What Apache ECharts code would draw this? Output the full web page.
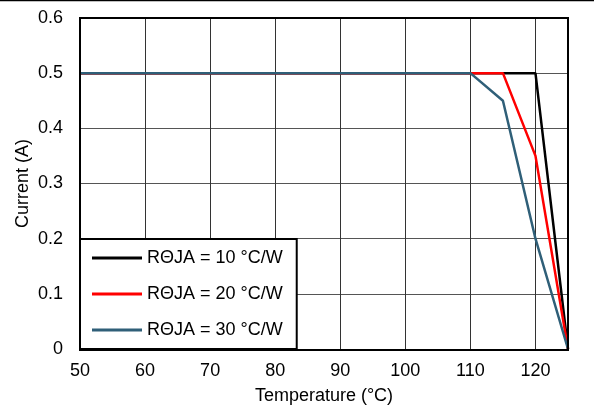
<!DOCTYPE html>
<html>
<head>
<meta charset="utf-8">
<script src="https://cdn.jsdelivr.net/npm/echarts@6/dist/echarts.min.js"></script>
<style>
  html, body { margin: 0; padding: 0; background: #fff; }
  #chart { width: 594px; height: 410px; }
</style>
</head>
<body>
<div id="chart"></div>
<script>
// temperature (°C) -> current (A)
var black10 = [[50, 0.5], [120, 0.5], [125, 0]];
var red20 = [[50, 0.5], [115, 0.5], [120, 0.35], [125, 0]];
var blue30 = [[50, 0.5], [110, 0.5], [115, 0.45], [120, 0.2], [125, 0]];
var seriesNames = ["RΘJA = 10 °C/W", "RΘJA = 20 °C/W", "RΘJA = 30 °C/W"];
var colors = ["#000000", "#ff0000", "#2f5f78"];

var myChart = echarts.init(document.getElementById("chart"));
var font = "Liberation Sans, Arial, sans-serif";

function line(name, data, color) {
  return {
    name: name,
    type: "line",
    data: data,
    symbol: "none",
    lineStyle: { color: color, width: 2.5 },
    itemStyle: { color: color },
    z: 3
  };
}

myChart.setOption({
  animation: false,
  textStyle: { fontFamily: font },
  grid: { left: 80, right: 26, top: 18, bottom: 60 },
  legend: {
    orient: "vertical",
    left: 80,
    top: 239,
    data: seriesNames,
    itemWidth: 50,
    itemHeight: 3,
    itemGap: 18,
    padding: [10, 14, 10, 12],
    borderColor: "#000",
    borderWidth: 2,
    borderRadius: 0,
    backgroundColor: "#fff",
    icon: "rect",
    textStyle: { fontSize: 18, color: "#000", fontFamily: font }
  },
  xAxis: {
    type: "value",
    min: 50,
    max: 125,
    interval: 10,
    name: "Temperature (°C)",
    nameLocation: "middle",
    nameGap: 38,
    nameTextStyle: { fontSize: 18, color: "#000" },
    axisLine: { show: false },
    axisTick: { show: false },
    axisLabel: {
      fontSize: 18, color: "#000", margin: 13,
      showMaxLabel: false
    },
    splitLine: { show: true, lineStyle: { color: "#333", width: 1 } }
  },
  yAxis: {
    type: "value",
    min: 0,
    max: 0.6,
    interval: 0.1,
    name: "Current (A)",
    nameLocation: "middle",
    nameGap: 48,
    nameMoveOverlap: false,
    nameTextStyle: { fontSize: 18, color: "#000" },
    axisLine: { show: false },
    axisTick: { show: false },
    axisLabel: {
      fontSize: 18, color: "#000", margin: 17,
      formatter: function (v) { return v === 0 ? "0" : v.toFixed(1); }
    },
    splitLine: { show: true, lineStyle: { color: "#555", width: 1 } }
  },
  graphic: [
    {
      type: "rect",
      shape: { x: 80, y: 18, width: 488, height: 332 },
      style: { fill: "none", stroke: "#000", lineWidth: 2 },
      z: 10
    },
    {
      type: "line",
      shape: { x1: 0, y1: 0.5, x2: 594, y2: 0.5 },
      style: { stroke: "#000", lineWidth: 1.5 }
    }
  ],
  series: [
    line(seriesNames[0], black10, colors[0]),
    line(seriesNames[1], red20, colors[1]),
    line(seriesNames[2], blue30, colors[2])
  ]
});
</script>
</body>
</html>
